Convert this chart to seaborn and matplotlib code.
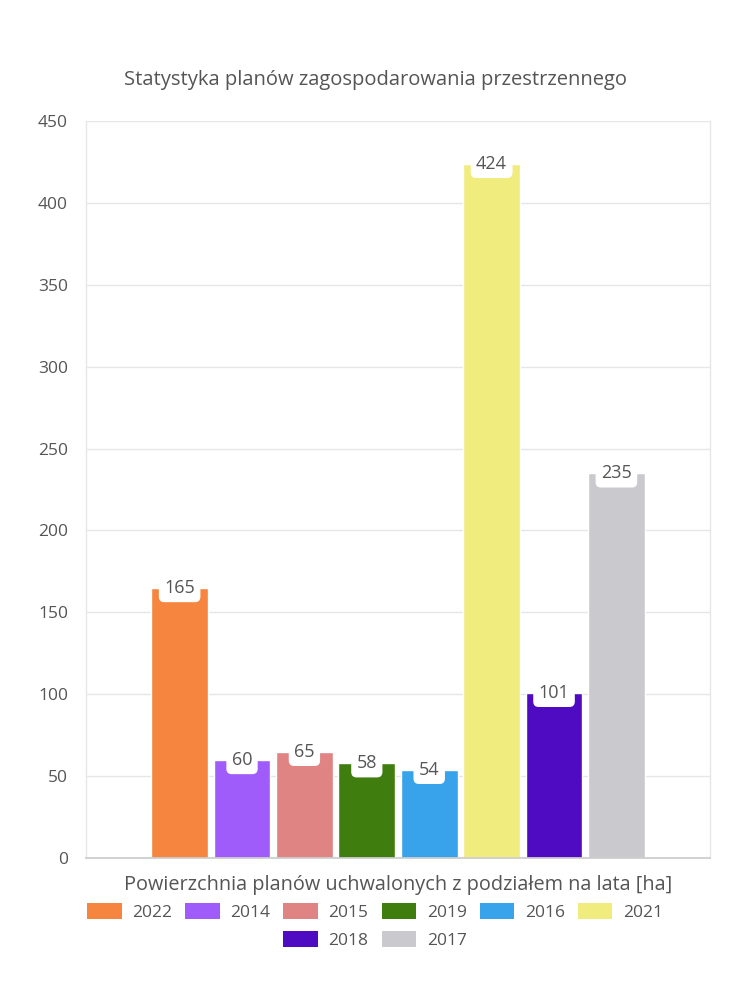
import matplotlib
matplotlib.use("Agg")
import matplotlib.pyplot as plt
import seaborn as sns
import pandas as pd
from matplotlib.patches import Patch

years = ["2022", "2014", "2015", "2019", "2016", "2021", "2018", "2017"]
values = [165, 60, 65, 58, 54, 424, 101, 235]
colors = ["#F5853F", "#A05CFA", "#E08383", "#3E7D0E", "#38A3EB", "#F0EC7E", "#4F0BC2", "#CACACE"]
title = "Statystyka planów zagospodarowania przestrzennego"
xlabel = "Powierzchnia planów uchwalonych z podziałem na lata [ha]"
yticks = [0, 50, 100, 150, 200, 250, 300, 350, 400, 450]

sns.set_theme(style="white")
plt.rcParams["font.family"] = ["Open Sans", "DejaVu Sans"]
TXT = "#555555"

df = pd.DataFrame({"cat": [""] * len(years), "year": years, "value": values})

fig = plt.figure(figsize=(7.5, 10), dpi=100)
ax = fig.add_axes([0.1147, 0.142, 0.832, 0.737])

sns.barplot(data=df, x="cat", y="value", hue="year", hue_order=years,
            palette=colors, width=0.80, gap=0.09, dodge=True, legend=False,
            saturation=1, ax=ax, errorbar=None)

ax.set_xlim(-0.5, 0.5)
ax.set_ylim(0, 450)
ax.set_yticks(yticks)
ax.set_yticklabels([str(t) for t in yticks], color=TXT, fontsize=12.5)
ax.set_xticks([-0.5, 0.5])
ax.set_xticklabels(["", ""])
ax.tick_params(axis="y", length=8, color="#e6e6e6", pad=5)
ax.tick_params(axis="x", length=7, color="#cccccc")
ax.yaxis.grid(True, color="#e6e6e6", linewidth=1)
ax.set_axisbelow(True)
for s in ["left", "right"]:
    ax.spines[s].set_color("#e6e6e6")
    ax.spines[s].set_linewidth(1)
ax.spines["top"].set_visible(False)
ax.spines["bottom"].set_color("#cccccc")
ax.set_ylabel("")
ax.set_xlabel(xlabel, color=TXT, fontsize=14.3, labelpad=2)

for cont, v in zip(ax.containers, values):
    for bar in cont:
        xc = bar.get_x() + bar.get_width() / 2
        ax.annotate(str(v), (xc, bar.get_height()), xytext=(0, 0),
                    textcoords="offset points", ha="center", va="center",
                    fontsize=13, color=TXT,
                    bbox=dict(boxstyle="round,pad=0.3,rounding_size=0.3",
                              fc="white", ec="none"))

fig.text(0.5, 0.92, title, ha="center", va="center", fontsize=14.5, color=TXT)

handles = [Patch(facecolor=c, edgecolor="none") for c in colors]
leg_kw = dict(frameon=False, fontsize=12.5, handlelength=2.0, handleheight=1.0,
              handletextpad=0.6, columnspacing=0.75, labelcolor=TXT,
              borderaxespad=0, borderpad=0)
l1 = fig.legend(handles[:6], years[:6], ncol=6, loc="center",
                bbox_to_anchor=(0.5, 0.088), **leg_kw)
l2 = fig.legend(handles[6:], years[6:], ncol=2, loc="center",
                bbox_to_anchor=(0.5, 0.06), **leg_kw)

fig.savefig("out.png", dpi=100)
